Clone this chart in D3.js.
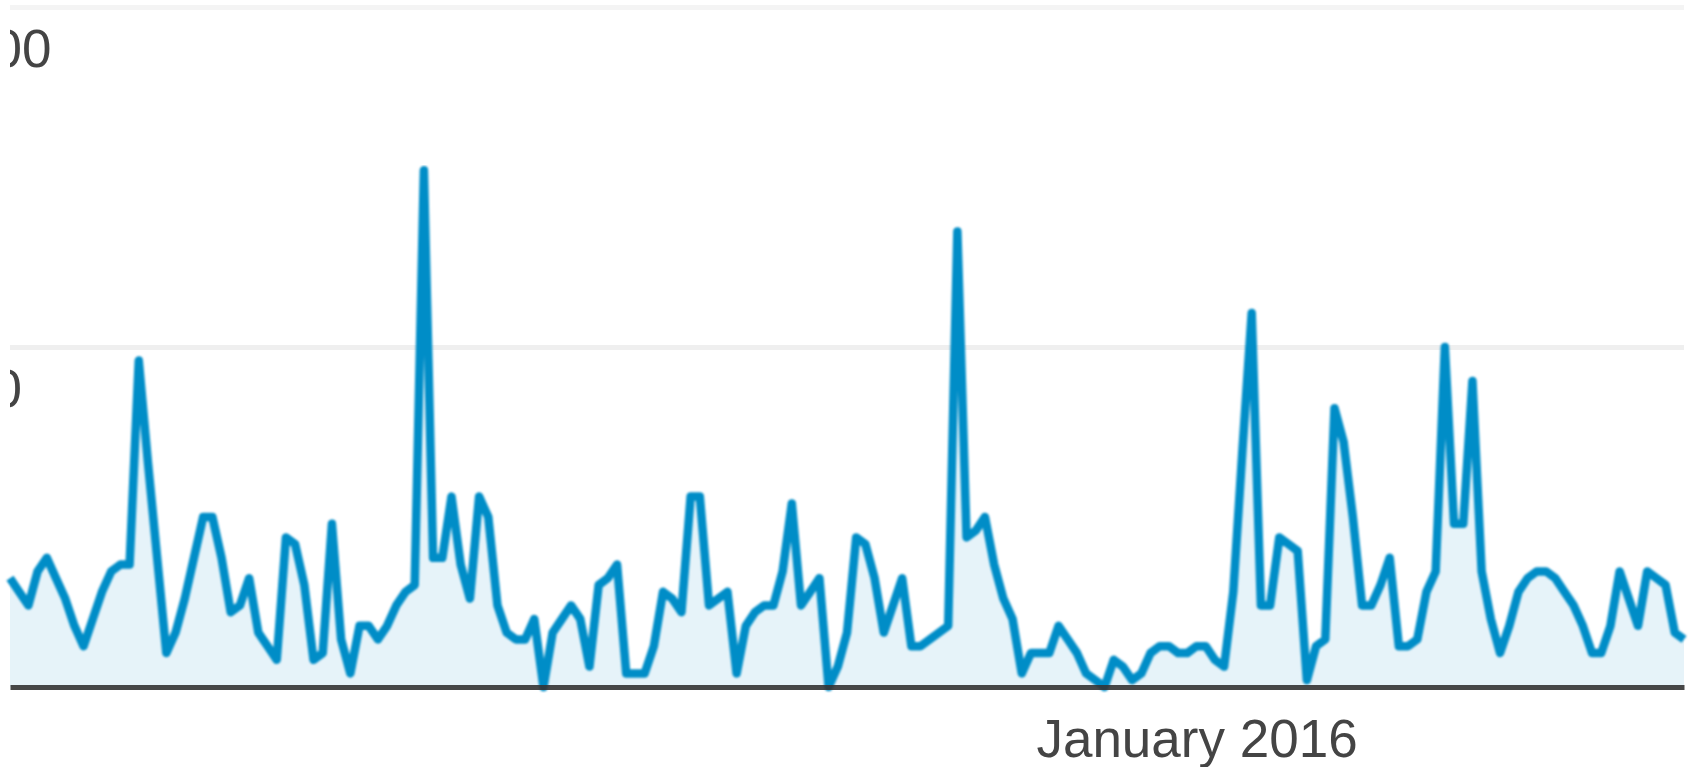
<!DOCTYPE html>
<html>
<head>
<meta charset="utf-8">
<script src="https://cdn.jsdelivr.net/npm/d3@7"></script>
<style>
  body { margin: 0; background: #fff; }
  text { font-family: "Liberation Sans", Arial, sans-serif; }
</style>
</head>
<body>
<svg id="chart" width="1688" height="767"></svg>
<script>
// daily sessions, one value per day starting at startDate
const startDate = new Date(2015, 7, 25);
const sessions = [
  16, 14, 12, 17, 19, 16, 13, 9, 6, 10,
  14, 17, 18, 18, 48, 33, 19, 5, 8, 13,
  19, 25, 25, 19, 11, 12, 16, 8, 6, 4,
  22, 21, 15, 4, 5, 24, 7, 2, 9, 9,
  7, 9, 12, 14, 15, 76, 19, 19, 28, 18,
  13, 28, 25, 12, 8, 7, 7, 10, 0, 8,
  10, 12, 10, 3, 15, 16, 18, 2, 2, 2,
  6, 14, 13, 11, 28, 28, 12, 13, 14, 2,
  9, 11, 12, 12, 17, 27, 12, 14, 16, 0,
  3, 8, 22, 21, 16, 8, 12, 16, 6, 6,
  7, 8, 9, 67, 22, 23, 25, 18, 13, 10,
  2, 5, 5, 5, 9, 7, 5, 2, 1, 0,
  4, 3, 1, 2, 5, 6, 6, 5, 5, 6,
  6, 4, 3, 14, 35, 55, 12, 12, 22, 21,
  20, 1, 6, 7, 41, 36, 25, 12, 12, 15,
  19, 6, 6, 7, 14, 17, 50, 24, 24, 45,
  17, 10, 5, 9, 14, 16, 17, 17, 16, 14,
  12, 9, 5, 5, 9, 17, 13, 9, 17, 16,
  15, 8, 7
];
const yTicks = [50, 100];
const xTickDates = [new Date(2016, 0, 1)];

const dates = sessions.map((d, i) => d3.timeDay.offset(startDate, i));

const width = 1688, height = 767;
const margin = { top: 7, right: 4, bottom: 80, left: 10 };

const svg = d3.select('#chart');

const x = d3.scaleTime()
  .domain([dates[0], dates[dates.length - 1]])
  .range([margin.left, width - margin.right]);

const y = d3.scaleLinear()
  .domain([0, 100])
  .range([height - margin.bottom, margin.top]);

const defs = svg.append('defs');

// clip for the y labels, they are cut at the plot's left edge
defs.append('clipPath').attr('id', 'labelClip')
  .append('rect')
  .attr('x', margin.left).attr('y', 0)
  .attr('width', width - margin.left).attr('height', height);

// the source image is an upscaled screenshot, so soften the line a bit
defs.append('filter').attr('id', 'soft')
  .attr('x', '-1%').attr('y', '-1%').attr('width', '102%').attr('height', '102%')
  .append('feGaussianBlur').attr('stdDeviation', 0.9);

// horizontal grid
svg.append('g')
  .attr('transform', 'translate(' + margin.left + ',0)')
  .call(d3.axisLeft(y)
    .tickValues(yTicks)
    .tickSize(-(width - margin.left - margin.right))
    .tickFormat(''))
  .call(g => g.select('.domain').remove())
  .call(g => g.selectAll('.tick line')
    .attr('stroke', d => d === 100 ? '#f4f4f4' : '#efefef')
    .attr('stroke-width', 5));

// y labels
svg.append('g')
  .attr('clip-path', 'url(#labelClip)')
  .selectAll('text')
  .data(yTicks)
  .join('text')
  .attr('x', -37)
  .attr('y', d => y(d) + 60)
  .attr('fill', '#444')
  .attr('font-size', 53)
  .text(d => d);

// area under the line
const area = d3.area()
  .x((d, i) => x(dates[i]))
  .y0(y(0))
  .y1(d => y(d));

svg.append('path')
  .datum(sessions)
  .attr('d', area)
  .attr('fill', '#e6f3f9');

const line = d3.line()
  .x((d, i) => x(dates[i]))
  .y(d => y(d));

svg.append('path')
  .datum(sessions)
  .attr('d', line)
  .attr('fill', 'none')
  .attr('stroke', '#058dc7')
  .attr('stroke-width', 8.5)
  .attr('stroke-linejoin', 'round')
  .attr('filter', 'url(#soft)');

// x axis, its domain is the dark baseline
svg.append('g')
  .attr('transform', 'translate(0,' + y(0) + ')')
  .call(d3.axisBottom(x)
    .tickValues(xTickDates)
    .tickSize(0)
    .tickSizeOuter(0)
    .tickFormat(d3.timeFormat('%B %Y')))
  .call(g => g.select('.domain')
    .attr('stroke', '#333')
    .attr('stroke-width', 5)
    .attr('stroke-opacity', 0.9))
  .call(g => g.selectAll('.tick text')
    .attr('y', 70)
    .attr('dy', 0)
    .attr('fill', '#444')
    .attr('font-size', 53));
</script>
</body>
</html>
